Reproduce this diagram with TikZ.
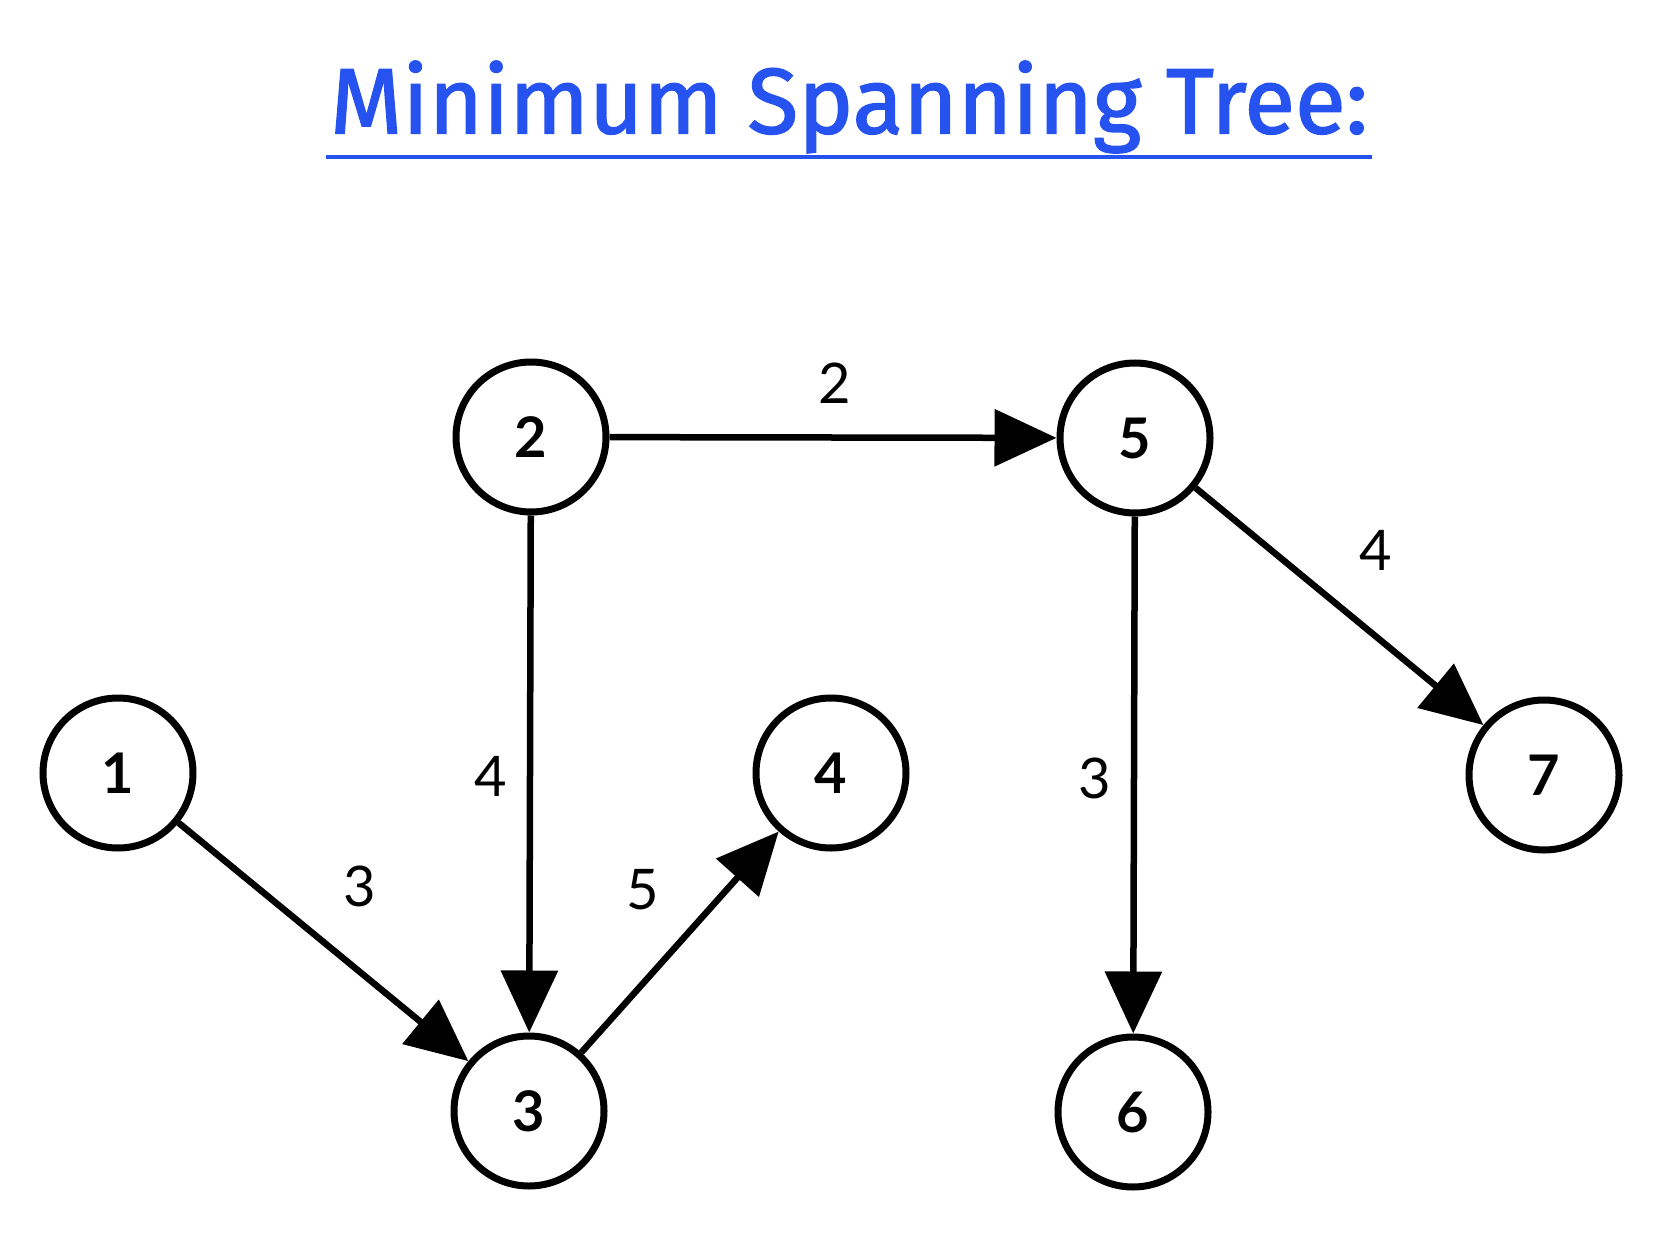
\documentclass[tikz,border=0pt]{standalone}
\usepackage{fontspec}
\setmainfont{Lato}
\newfontfamily\titlefont[FakeBold=1.5]{Fira Sans}
\usetikzlibrary{arrows.meta}
\definecolor{titleblue}{RGB}{38,82,240}

\begin{document}
\begin{tikzpicture}[x=1pt,y=-1pt,
  vertex/.style={draw,circle,line width=7pt,minimum size=150pt,inner sep=0pt,font=\fontsize{56}{60}\selectfont\bfseries},
  weight/.style={font=\fontsize{56}{60}\selectfont},
  arrow/.style={-{Triangle[length=62pt,width=56pt]},line width=6.5pt}]
  \useasboundingbox (0,0) rectangle (1660,1241);

  \node[text=titleblue,font=\titlefont\fontsize{93}{97}\selectfont] (title) at (849,107) {Minimum Spanning Tree:};
  \coordinate (line left) at (326,157);
  \coordinate (line right) at (1372,157);
  \draw[titleblue,line width=4pt] (line left) -- (line right);

  \node[vertex] (v1) at (118,773) {1};
  \node[vertex] (v2) at (531,437) {2};
  \node[vertex] (v3) at (529,1111) {3};
  \node[vertex] (v4) at (831,773) {4};
  \node[vertex] (v5) at (1135,438) {5};
  \node[vertex] (v6) at (1133,1112) {6};
  \node[vertex] (v7) at (1544,775) {7};

  \draw[arrow] (v2) -- (v5);
  \draw[arrow] (v2) -- (v3);
  \draw[arrow] (v1) -- (v3);
  \draw[arrow] (v3) -- (v4);
  \draw[arrow] (v5) -- (v6);
  \draw[arrow] (v5) -- (v7);

  \node[weight] (w25) at (835,383) {2};
  \node[weight] (w57) at (1376,550) {4};
  \node[weight] (w13) at (360,886) {3};
  \node[weight] (w23) at (491,776) {4};
  \node[weight] (w34) at (643,890) {5};
  \node[weight] (w56) at (1095,778) {3};
\end{tikzpicture}
\end{document}
